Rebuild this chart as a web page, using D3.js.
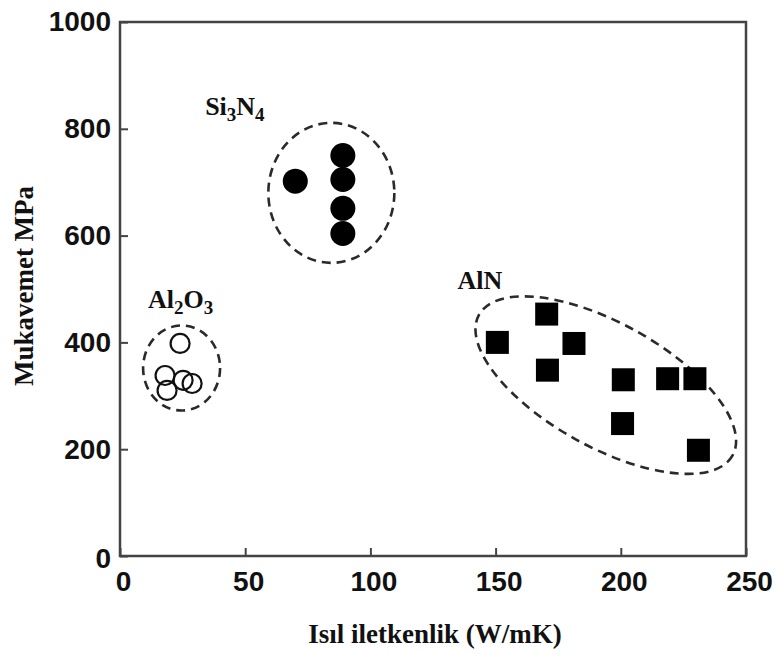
<!DOCTYPE html>
<html><head><meta charset="utf-8">
<script src="https://cdn.jsdelivr.net/npm/d3@7"></script>
<style>html,body{margin:0;padding:0;background:#fff;}</style>
</head><body>
<svg id="chart" width="774" height="654"></svg>
<script>
// ---- data ----
const xTicks = [0, 50, 100, 150, 200, 250];
const yTicks = [0, 200, 400, 600, 800, 1000];
const si3n4X = [70, 89, 89, 89, 89];
const si3n4Y = [702, 750, 705, 651, 604];
const al2o3X = [24, 18, 18.8, 25.2, 28.8];
const al2o3Y = [398, 338, 310, 329, 323];
const alnX = [150.7, 170.4, 181.3, 170.7, 201, 218.7, 229.6, 200.7, 231];
const alnY = [400, 453, 398, 348, 330, 332, 332, 248, 198];
const groupNames = ["Si3N4", "Al2O3", "AlN"];
const groupLabelX = [34, 11.2, 134.8];
const groupLabelY = [826, 465, 500];
const ellipseCX = [84.4, 24.6, 194];
const ellipseCY = [680, 352, 320];
const xTitle = "Isıl iletkenlik (W/mK)";
const yTitle = "Mukavemet MPa";

// ---- layout ----
const svg = d3.select("#chart");
const x = d3.scaleLinear().domain([0, 250]).range([120, 746]);
const y = d3.scaleLinear().domain([0, 1000]).range([556, 22]);
const frameColor = "#444";

// frame
svg.append("rect").attr("x", x(0)).attr("y", y(1000))
  .attr("width", x(250) - x(0)).attr("height", y(0) - y(1000))
  .attr("fill", "none").attr("stroke", frameColor).attr("stroke-width", 2.5);

// axes
const fmt = d3.format("d");
const xAxis = d3.axisBottom(x).tickValues(xTicks).tickFormat(fmt).tickSize(-8).tickPadding(15);
const yAxis = d3.axisLeft(y).tickValues(yTicks).tickFormat(fmt).tickSize(-8).tickPadding(9);
const gx = svg.append("g").attr("transform", `translate(0,${y(0)})`).call(xAxis);
const gy = svg.append("g").attr("transform", `translate(${x(0)},0)`).call(yAxis);
[gx, gy].forEach(g => {
  g.select(".domain").remove();
  g.selectAll(".tick line").attr("stroke", frameColor).attr("stroke-width", 2);
  g.selectAll(".tick text").attr("fill", "#111")
    .style("font-family", "Liberation Sans, Arial, sans-serif")
    .style("font-weight", "bold").style("font-size", "28px");
});
gx.selectAll(".tick text").attr("dx", 3);
gy.selectAll(".tick text").filter(d => d === 0).attr("dy", "0.42em");

// ellipses
const ellipseRX = [63, 38.5, 145];
const ellipseRY = [70, 42.5, 62];
const ellipseRot = [0, 0, 29];
groupNames.forEach((n, i) => {
  svg.append("ellipse")
    .attr("transform", `translate(${x(ellipseCX[i])},${y(ellipseCY[i])}) rotate(${ellipseRot[i]})`)
    .attr("rx", ellipseRX[i]).attr("ry", ellipseRY[i])
    .attr("fill", "none").attr("stroke", "#2a2a2a").attr("stroke-width", 2.6)
    .attr("stroke-dasharray", "9,6");
});

// Si3N4 filled circles
svg.append("g").selectAll("circle").data(d3.zip(si3n4X, si3n4Y)).join("circle")
  .attr("cx", d => x(d[0])).attr("cy", d => y(d[1])).attr("r", 12.5)
  .attr("fill", "#000");

// Al2O3 open circles
svg.append("g").selectAll("circle").data(d3.zip(al2o3X, al2o3Y)).join("circle")
  .attr("cx", d => x(d[0])).attr("cy", d => y(d[1])).attr("r", 9.5)
  .attr("fill", "none").attr("stroke", "#111").attr("stroke-width", 2.2);

// AlN squares
const sq = 23;
svg.append("g").selectAll("rect").data(d3.zip(alnX, alnY)).join("rect")
  .attr("x", d => x(d[0]) - sq / 2).attr("y", d => y(d[1]) - sq / 2)
  .attr("width", sq).attr("height", sq).attr("fill", "#000");

// group labels with subscripts
const serif = "Liberation Serif, Times New Roman, serif";
groupNames.forEach((n, i) => {
  const t = svg.append("text").attr("x", x(groupLabelX[i])).attr("y", y(groupLabelY[i]))
    .style("font-family", serif).style("font-weight", "bold").style("font-size", "26px")
    .attr("fill", "#111");
  const parts = n.match(/[A-Za-z]+|\d+/g);
  let sub = false;
  parts.forEach(p => {
    const isNum = /\d/.test(p);
    const ts = t.append("tspan").text(p);
    if (isNum && !sub) { ts.attr("dy", 6).style("font-size", "19px"); sub = true; }
    else if (!isNum && sub) { ts.attr("dy", -6); sub = false; }
  });
});

// axis titles
svg.append("text").attr("x", 435).attr("y", 643).attr("text-anchor", "middle")
  .style("font-family", serif).style("font-weight", "bold").style("font-size", "27px")
  .attr("fill", "#111").text(xTitle);
svg.append("text").attr("transform", "translate(33,286) rotate(-90)").attr("text-anchor", "middle")
  .style("font-family", serif).style("font-weight", "bold").style("font-size", "27px")
  .attr("fill", "#111").text(yTitle);
</script>
</body></html>
